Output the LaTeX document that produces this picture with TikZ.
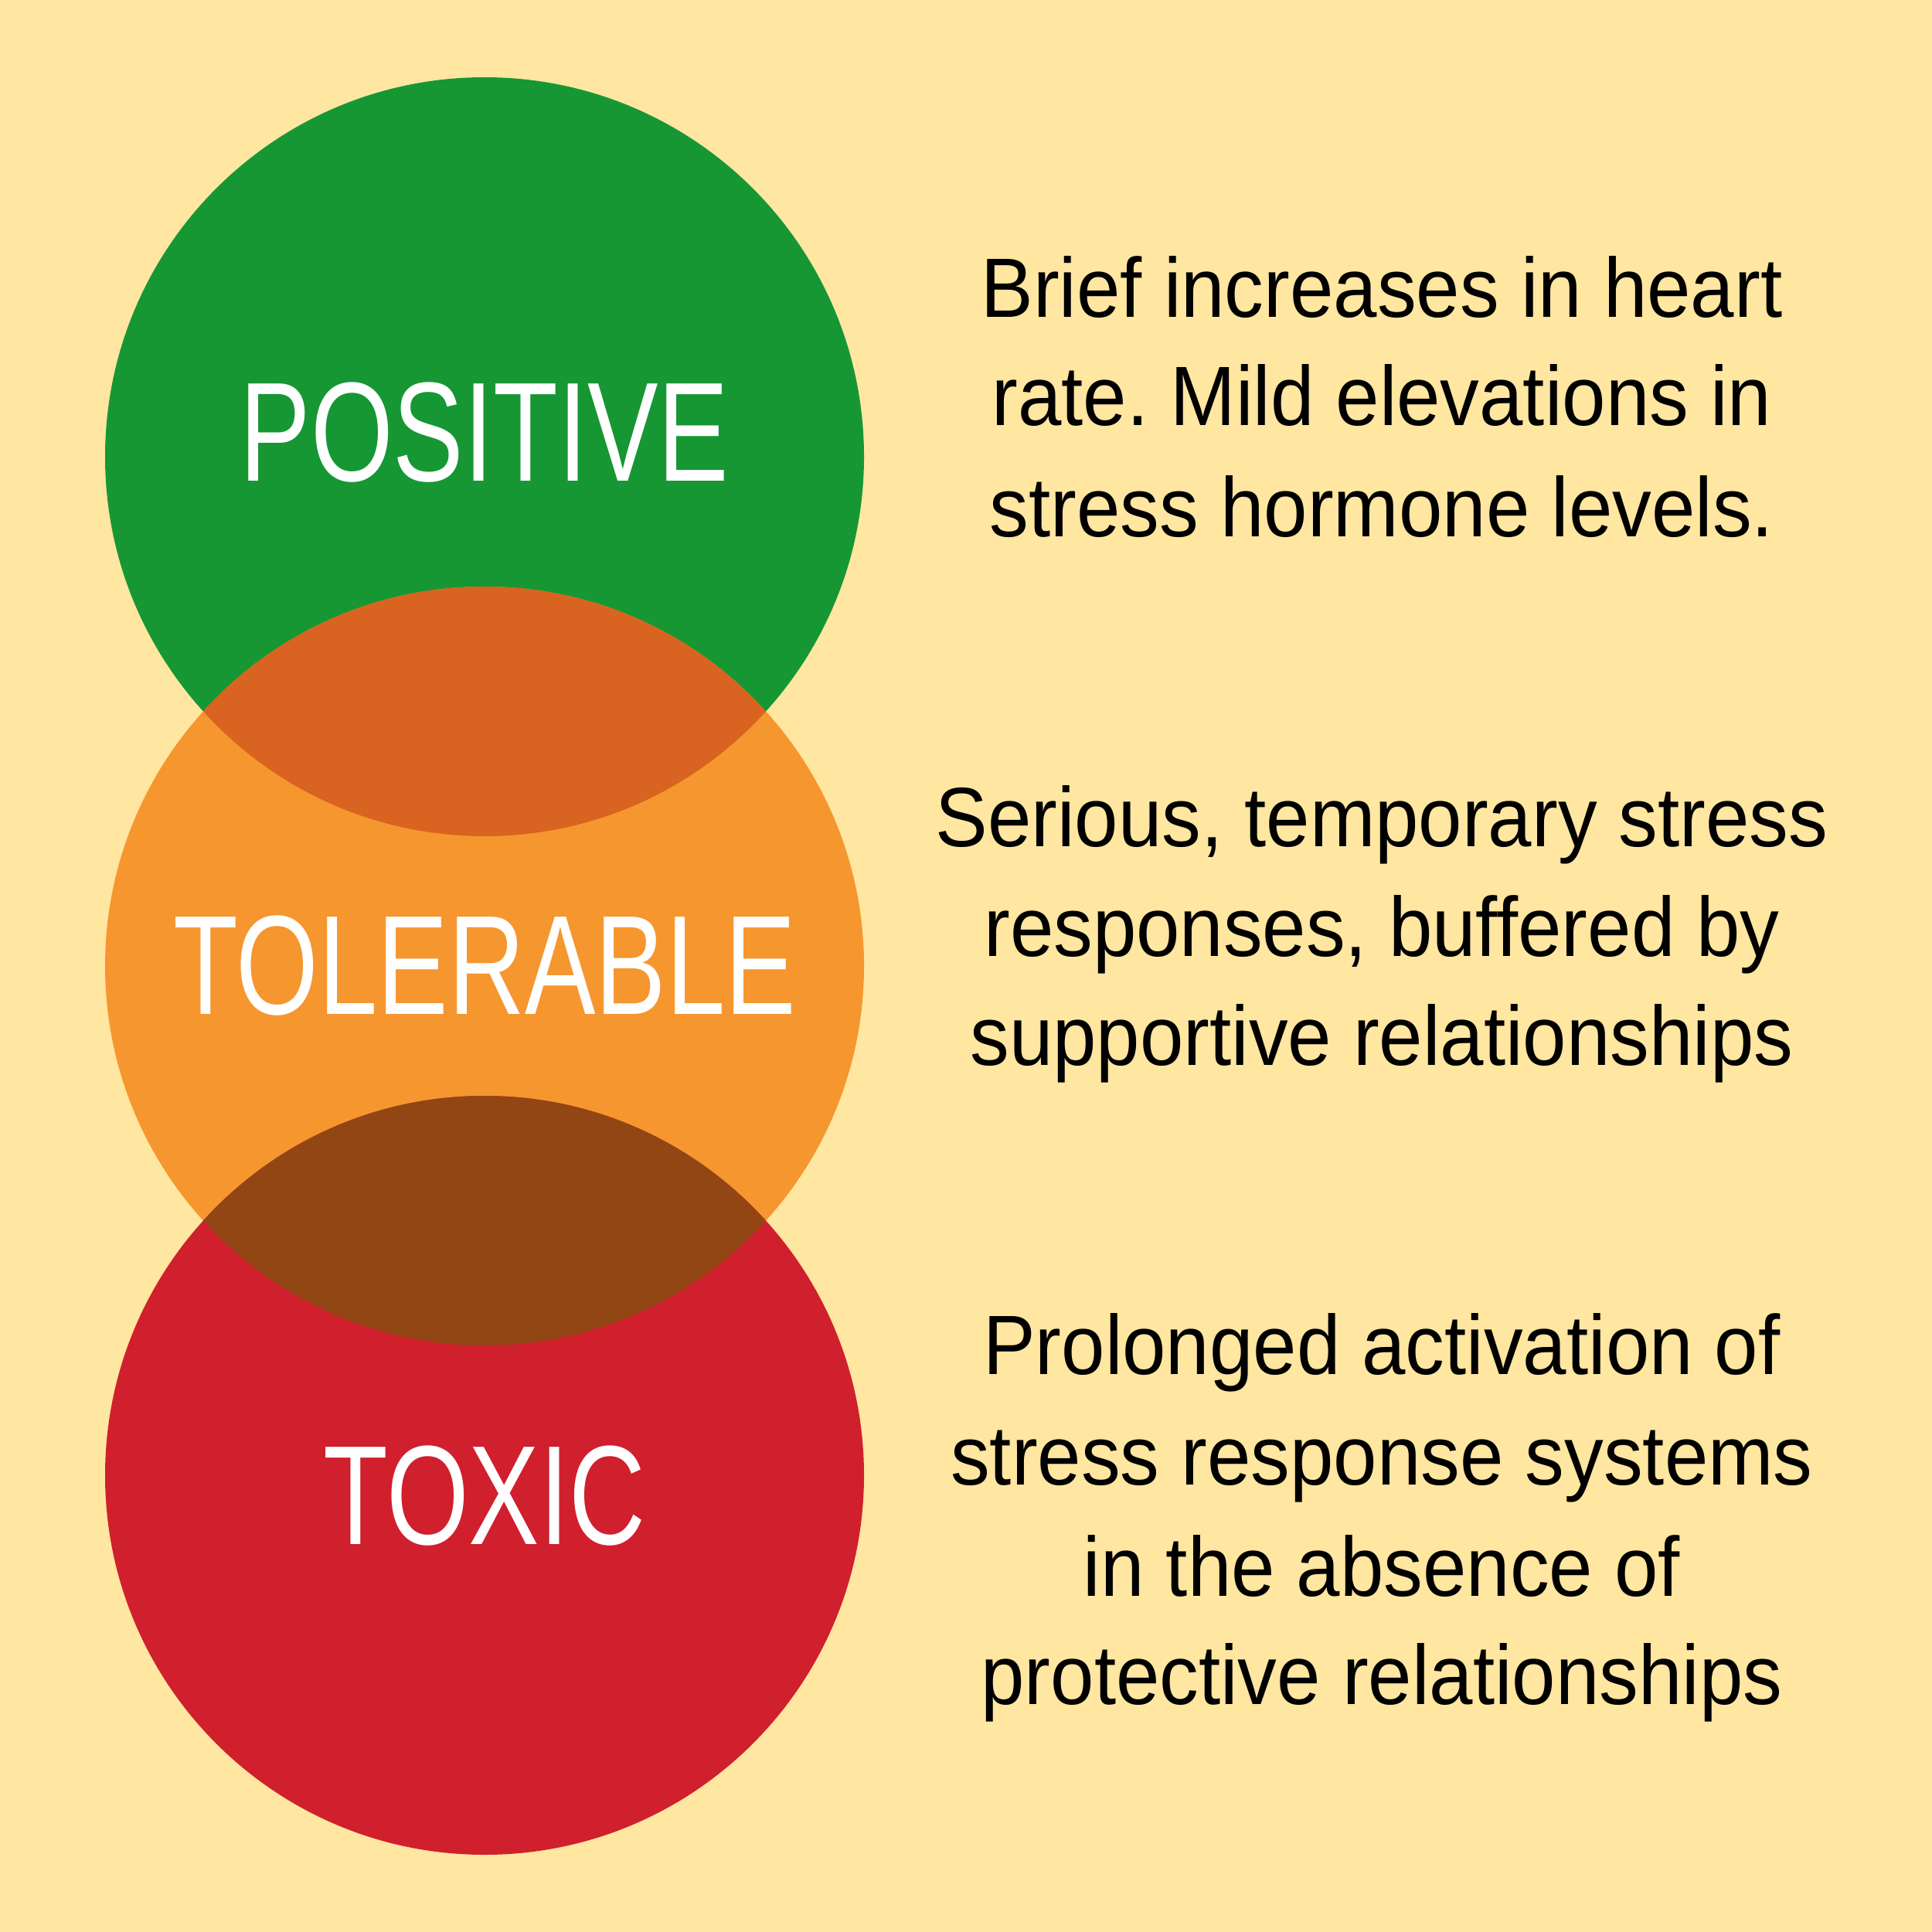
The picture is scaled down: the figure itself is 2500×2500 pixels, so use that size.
\documentclass[tikz,border=0pt]{standalone}
\usepackage{fontspec}
\setmainfont{Liberation Sans}
\newfontfamily\descfont[FakeStretch=0.93]{Liberation Sans}
\newfontfamily\labfont[FakeStretch=0.75]{Liberation Sans}
\definecolor{bgc}{HTML}{FFE6A1}
\definecolor{greenc}{HTML}{169733}
\definecolor{orangec}{HTML}{F6962F}
\definecolor{redc}{HTML}{D01F2D}
\definecolor{lensa}{HTML}{D96320}
\definecolor{lensb}{HTML}{924614}
\frenchspacing
\tikzset{
  desc/.style={anchor=base, inner sep=0pt, text=black, font=\descfont\fontsize{31}{40}\selectfont},
  lab/.style={anchor=base, inner sep=0pt, text=white, font=\labfont\fontsize{52}{60}\selectfont}
}
\begin{document}
\begin{tikzpicture}[x=0.01cm, y=-0.01cm]
\fill[bgc] (0,0) rectangle (2500,2500);
\useasboundingbox (0,0) rectangle (2500,2500);
% circles
\fill[greenc] (627,591) circle[radius=491];
\fill[orangec] (627,1250) circle[radius=491];
\fill[redc] (627,1909) circle[radius=491];
\begin{scope}
  \clip (627,591) circle[radius=491];
  \fill[lensa] (627,1250) circle[radius=491];
\end{scope}
\begin{scope}
  \clip (627,1250) circle[radius=491];
  \fill[lensb] (627,1909) circle[radius=491];
\end{scope}
% labels
\node[lab] (pos) at (627,622) {POSITIVE};
\node[lab] (tol) at (627,1312) {TOLERABLE};
\node[lab] (tox) at (627,1998) {TOXIC};
% descriptions
\node[desc] (a1) at (1788,410) {Brief increases in heart};
\node[desc] (a2) at (1788,550) {rate. Mild elevations in};
\node[desc] (a3) at (1788,694) {stress hormone levels.};
\node[desc] (b1) at (1788,1095) {Serious, temporary stress};
\node[desc] (b2) at (1788,1237) {responses, buffered by};
\node[desc] (b3) at (1788,1378) {supportive relationships};
\node[desc] (c1) at (1788,1778) {Prolonged activation of};
\node[desc] (c2) at (1788,1921) {stress response systems};
\node[desc] (c3) at (1788,2065) {in the absence of};
\node[desc] (c4) at (1788,2205) {protective relationships};
\end{tikzpicture}
\end{document}
